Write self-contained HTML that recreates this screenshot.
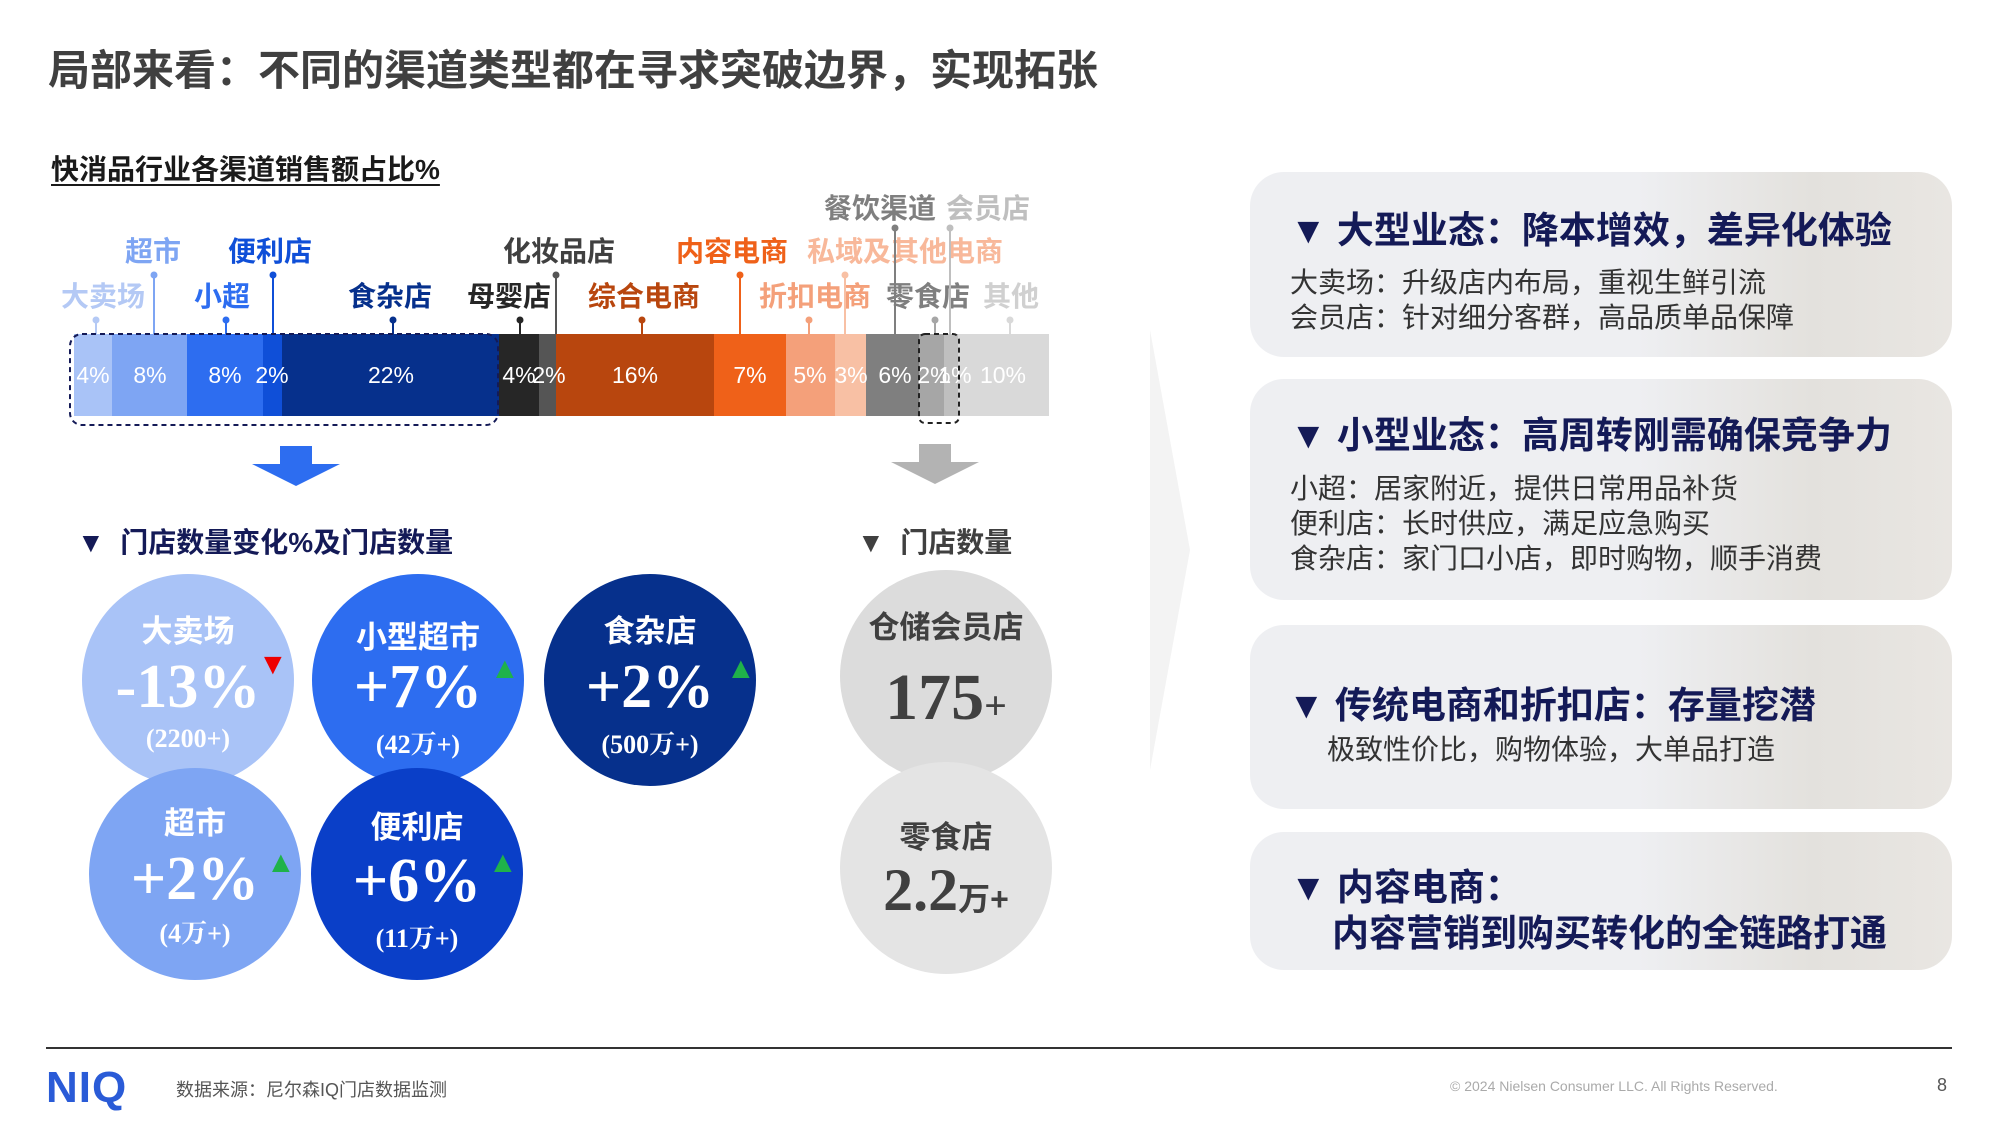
<!DOCTYPE html>
<html><head><meta charset="utf-8">
<style>
body{margin:0;width:2000px;height:1125px;background:#fff;overflow:hidden;position:relative;font-family:"Liberation Sans","Noto Sans CJK SC",sans-serif;}
.a{position:absolute;white-space:nowrap;}
.panel{position:absolute;left:1250px;width:702px;border-radius:34px;background:linear-gradient(90deg,#eeeff2 0%,#eeeff2 55%,#e3e1dd 80%,#e9e6e2 100%);}
.h{position:absolute;font-weight:bold;color:#141a57;font-size:37px;white-space:nowrap;}
.b{position:absolute;color:#333;font-size:28px;white-space:nowrap;}
.c{position:absolute;border-radius:50%;width:212px;height:212px;color:#fff;text-align:center;}
.ct{position:absolute;left:0;right:0;font-weight:bold;font-size:31px;}
.cn{position:absolute;left:0;right:0;font-family:"Liberation Serif","Noto Serif CJK SC",serif;font-weight:bold;font-size:62px;}
.cs{position:absolute;left:0;right:0;font-family:"Liberation Serif","Noto Serif CJK SC",serif;font-weight:bold;font-size:26px;}
.tri{position:absolute;font-size:30px;}
</style></head><body>
<div class="a" style="left:48px;top:37px;font-size:42px;font-weight:bold;color:#404040;">局部来看：不同的渠道类型都在寻求突破边界，实现拓张</div>
<div class="a" style="left:51px;top:148px;font-size:28px;font-weight:bold;color:#1a1a1a;text-decoration:underline;text-underline-offset:5px;">快消品行业各渠道销售额占比%</div>

<svg class="a" style="left:0;top:0" width="1200" height="1125">
<polygon points="1150,330 1190,550 1150,770" fill="#f3f3f3"/>
<g font-family="Liberation Sans,Noto Sans CJK SC,sans-serif" font-weight="bold" font-size="28" text-anchor="middle">
<text x="880" y="218" fill="#7f7f7f">餐饮渠道</text>
<text x="988" y="218" fill="#bfbfbf">会员店</text>
<text x="153" y="261" fill="#7ea5f3">超市</text>
<text x="270" y="261" fill="#0f4fd8">便利店</text>
<text x="559" y="261" fill="#404040">化妆品店</text>
<text x="732" y="261" fill="#ef6119">内容电商</text>
<text x="905" y="261" fill="#f8b89a">私域及其他电商</text>
<text x="103" y="306" fill="#b4c9f5">大卖场</text>
<text x="222" y="306" fill="#2d6df0">小超</text>
<text x="390" y="306" fill="#06308c">食杂店</text>
<text x="509" y="306" fill="#262626">母婴店</text>
<text x="644" y="306" fill="#b8460e">综合电商</text>
<text x="815" y="306" fill="#f4a07a">折扣电商</text>
<text x="928" y="306" fill="#7f7f7f">零食店</text>
<text x="1011" y="306" fill="#d0d0d0">其他</text>
</g>
<g stroke-width="2">
<line x1="96" y1="320" x2="96" y2="334" stroke="#b4c9f5"/><circle cx="96" cy="320" r="3.5" fill="#b4c9f5"/>
<line x1="154" y1="275" x2="154" y2="334" stroke="#7ea5f3"/><circle cx="154" cy="275" r="3.5" fill="#7ea5f3"/>
<line x1="226" y1="320" x2="226" y2="334" stroke="#2d6df0"/><circle cx="226" cy="320" r="3.5" fill="#2d6df0"/>
<line x1="273" y1="275" x2="273" y2="334" stroke="#0f4fd8"/><circle cx="273" cy="275" r="3.5" fill="#0f4fd8"/>
<line x1="393" y1="320" x2="393" y2="334" stroke="#06308c"/><circle cx="393" cy="320" r="3.5" fill="#06308c"/>
<line x1="520" y1="320" x2="520" y2="334" stroke="#262626"/><circle cx="520" cy="320" r="3.5" fill="#262626"/>
<line x1="556" y1="275" x2="556" y2="334" stroke="#555"/><circle cx="556" cy="275" r="3.5" fill="#555"/>
<line x1="642" y1="320" x2="642" y2="334" stroke="#b8460e"/><circle cx="642" cy="320" r="3.5" fill="#b8460e"/>
<line x1="740" y1="275" x2="740" y2="334" stroke="#ef6119"/><circle cx="740" cy="275" r="3.5" fill="#ef6119"/>
<line x1="809" y1="320" x2="809" y2="334" stroke="#f4a07a"/><circle cx="809" cy="320" r="3.5" fill="#f4a07a"/>
<line x1="845" y1="275" x2="845" y2="334" stroke="#f8c0a4"/><circle cx="845" cy="275" r="3.5" fill="#f8c0a4"/>
<line x1="895" y1="228" x2="895" y2="334" stroke="#7f7f7f"/><circle cx="895" cy="228" r="3.5" fill="#7f7f7f"/>
<line x1="935" y1="320" x2="935" y2="334" stroke="#a6a6a6"/><circle cx="935" cy="320" r="3.5" fill="#a6a6a6"/>
<line x1="950" y1="228" x2="950" y2="334" stroke="#bfbfbf"/><circle cx="950" cy="228" r="3.5" fill="#bfbfbf"/>
<line x1="1010" y1="320" x2="1010" y2="334" stroke="#d9d9d9"/><circle cx="1010" cy="320" r="3.5" fill="#d9d9d9"/>
</g>
<g>
<rect x="74" y="334" width="38" height="82" fill="#a9c3f7"/>
<rect x="112" y="334" width="75" height="82" fill="#7ea5f3"/>
<rect x="187" y="334" width="76" height="82" fill="#2d6df0"/>
<rect x="263" y="334" width="19" height="82" fill="#0f4fd8"/>
<rect x="282" y="334" width="217" height="82" fill="#06308c"/>
<rect x="499" y="334" width="40" height="82" fill="#262626"/>
<rect x="539" y="334" width="17" height="82" fill="#555"/>
<rect x="556" y="334" width="158" height="82" fill="#b8460e"/>
<rect x="714" y="334" width="72" height="82" fill="#ef6119"/>
<rect x="786" y="334" width="49" height="82" fill="#f4a07a"/>
<rect x="835" y="334" width="31" height="82" fill="#f8c0a4"/>
<rect x="866" y="334" width="53" height="82" fill="#7f7f7f"/>
<rect x="919" y="334" width="25" height="82" fill="#a6a6a6"/>
<rect x="944" y="334" width="14" height="82" fill="#bfbfbf"/>
<rect x="958" y="334" width="91" height="82" fill="#d9d9d9"/>
</g>
<g font-family="Liberation Sans,sans-serif" font-size="23" fill="#fff" text-anchor="middle">
<text x="93" y="383">4%</text><text x="150" y="383">8%</text><text x="225" y="383">8%</text><text x="272" y="383">2%</text><text x="391" y="383">22%</text>
<text x="519" y="383">4%</text><text x="549" y="383">2%</text><text x="635" y="383">16%</text><text x="750" y="383">7%</text><text x="810" y="383">5%</text><text x="851" y="383">3%</text><text x="895" y="383">6%</text><text x="934" y="383">2%</text><text x="955" y="383">1%</text><text x="1003" y="383">10%</text>
</g>
<rect x="70" y="334" width="428" height="91" rx="12" fill="none" stroke="#141a57" stroke-width="2" stroke-dasharray="5,4"/>
<rect x="919" y="334" width="40" height="89" rx="6" fill="none" stroke="#222" stroke-width="2" stroke-dasharray="5,4"/>
<polygon points="280,446 312,446 312,464 340,464 296,486 252,464 280,464" fill="#2d6df0"/>
<polygon points="919,444 951,444 951,462 979,462 935,484 891,462 919,462" fill="#b3b3b3"/>
</svg>

<div class="a" style="left:77px;top:521px;font-size:28px;font-weight:bold;color:#141a57;">▼&nbsp; 门店数量变化%及门店数量</div>
<div class="a" style="left:857px;top:521px;font-size:28px;font-weight:bold;color:#404040;">▼&nbsp; 门店数量</div>

<div class="c" style="left:82px;top:574px;background:#a9c3f7;"><div class="ct" style="top:32px">大卖场</div><div class="cn" style="top:78px">-13%</div><div class="cs" style="top:150px">(2200+)</div></div>
<div class="c" style="left:312px;top:574px;background:#2d6df0;"><div class="ct" style="top:38px">小型超市</div><div class="cn" style="top:78px">+7%</div><div class="cs" style="top:150px">(42万+)</div></div>
<div class="c" style="left:544px;top:574px;background:#06308c;"><div class="ct" style="top:32px">食杂店</div><div class="cn" style="top:78px">+2%</div><div class="cs" style="top:150px">(500万+)</div></div>
<div class="c" style="left:89px;top:768px;background:#7ea5f3;"><div class="ct" style="top:30px">超市</div><div class="cn" style="top:76px">+2%</div><div class="cs" style="top:145px">(4万+)</div></div>
<div class="c" style="left:311px;top:768px;background:#0a3fc8;"><div class="ct" style="top:34px">便利店</div><div class="cn" style="top:78px">+6%</div><div class="cs" style="top:150px">(11万+)</div></div>
<div class="tri" style="left:258px;top:648px;color:#e00;">▼</div>
<div class="tri" style="left:490px;top:652px;color:#1fb24a;">▲</div>
<div class="tri" style="left:726px;top:652px;color:#1fb24a;">▲</div>
<div class="tri" style="left:266px;top:846px;color:#1fb24a;">▲</div>
<div class="tri" style="left:488px;top:846px;color:#1fb24a;">▲</div>

<div class="c" style="left:840px;top:570px;background:#dcdcdc;color:#404040"><div class="ct" style="top:32px">仓储会员店</div><div class="cn" style="top:90px;font-size:66px">175<span style="font-size:40px">+</span></div></div>
<div class="c" style="left:840px;top:762px;background:#e4e4e4;color:#404040"><div class="ct" style="top:50px">零食店</div><div class="cn" style="top:94px;font-size:60px">2.2<span style="font-size:32px;font-family:'Liberation Sans','Noto Sans CJK SC',sans-serif">万+</span></div></div>

<div class="panel" style="top:172px;height:185px"></div>
<div class="panel" style="top:379px;height:221px"></div>
<div class="panel" style="top:625px;height:184px"></div>
<div class="panel" style="top:832px;height:138px"></div>
<div class="h" style="left:1290px;top:200px">▼ 大型业态：降本增效，差异化体验</div>
<div class="b" style="left:1290px;top:261px">大卖场：升级店内布局，重视生鲜引流</div>
<div class="b" style="left:1290px;top:296px">会员店：针对细分客群，高品质单品保障</div>
<div class="h" style="left:1290px;top:405px">▼ 小型业态：高周转刚需确保竞争力</div>
<div class="b" style="left:1290px;top:467px">小超：居家附近，提供日常用品补货</div>
<div class="b" style="left:1290px;top:502px">便利店：长时供应，满足应急购买</div>
<div class="b" style="left:1290px;top:537px">食杂店：家门口小店，即时购物，顺手消费</div>
<div class="h" style="left:1288px;top:675px">▼ 传统电商和折扣店：存量挖潜</div>
<div class="b" style="left:1327px;top:728px">极致性价比，购物体验，大单品打造</div>
<div class="h" style="left:1290px;top:857px">▼ 内容电商：</div>
<div class="h" style="left:1332px;top:903px">内容营销到购买转化的全链路打通</div>

<div class="a" style="left:46px;top:1047px;width:1906px;height:2px;background:#333"></div>
<div class="a" style="left:46px;top:1063px;font-size:44px;font-weight:bold;color:#2a5bd7;letter-spacing:1px;">NIQ</div>
<div class="a" style="left:176px;top:1076px;font-size:18px;color:#555;">数据来源：尼尔森IQ门店数据监测</div>
<div class="a" style="left:1450px;top:1078px;font-size:14px;color:#aaa;">© 2024 Nielsen Consumer LLC. All Rights Reserved.</div>
<div class="a" style="left:1937px;top:1075px;font-size:18px;color:#555;">8</div>
</body></html>
